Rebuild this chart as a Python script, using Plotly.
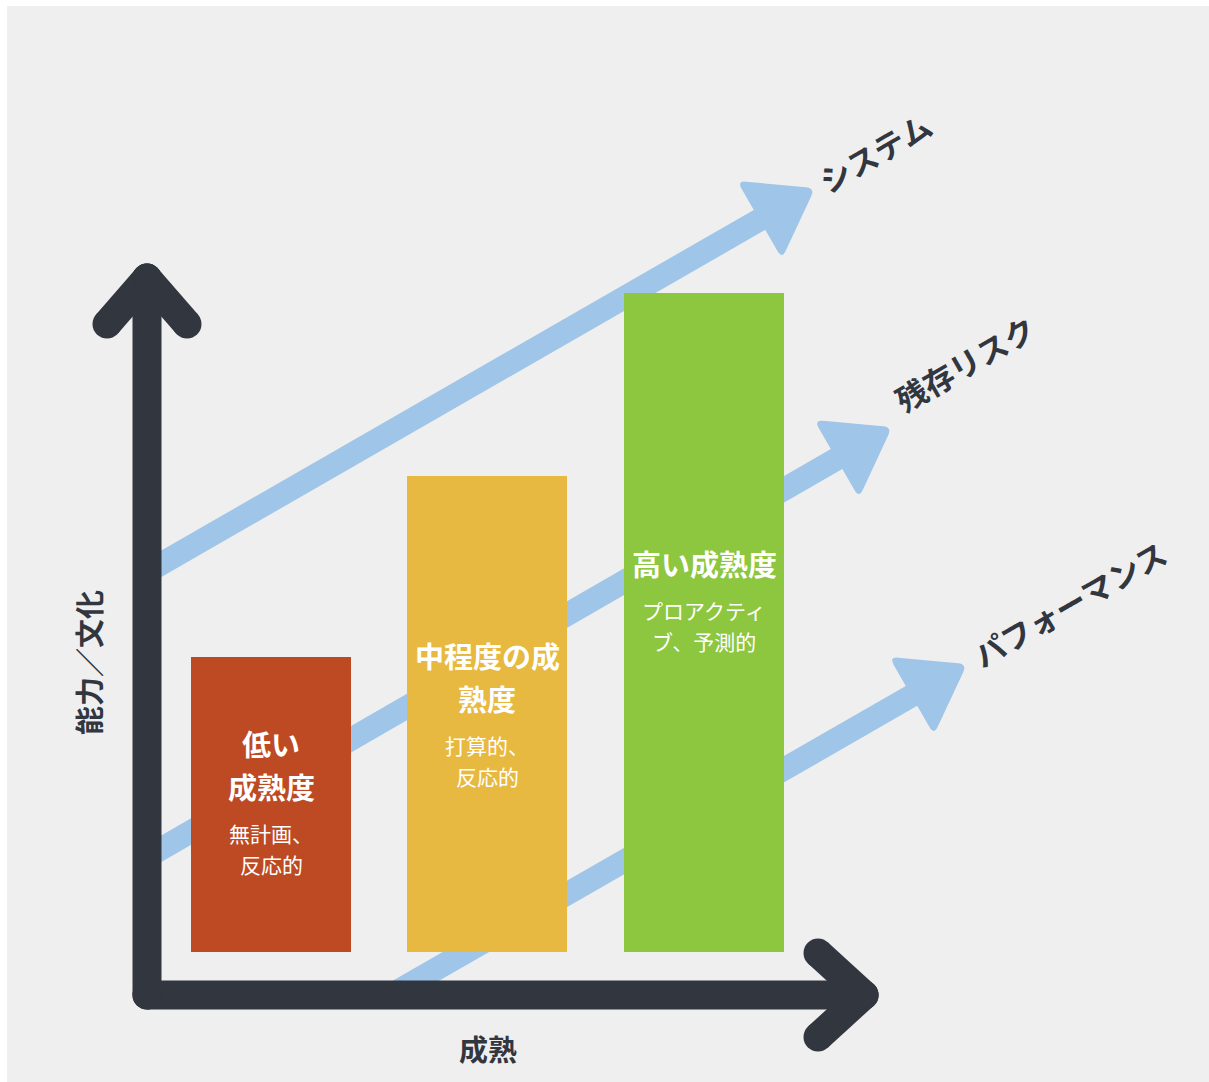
import math
import plotly.graph_objects as go

W, H = 1209, 1082
BASE = 952  # pixel row of the bar baseline

# ---- data -------------------------------------------------------------
stage_names = ["低い成熟度", "中程度の成熟度", "高い成熟度"]
stage_pos = [271, 487, 704]
stage_level = [295, 476, 659]
stage_colors = ["#BD4A22", "#E8B940", "#8DC63F"]
stage_title_lines = [["低い", "成熟度"], ["中程度の成", "熟度"], ["高い成熟度"]]
stage_sub_lines = [["無計画、", "反応的"], ["打算的、", "反応的"], ["プロアクティ", "ブ、予測的"]]
trend_labels = ["システム", "残存リスク", "パフォーマンス"]
x_axis_label = "成熟"
y_axis_label = "能力／文化"

# ---- layout constants (pixel space) -------------------------------------
BG = "#EFEFEF"
DARK = "#32363F"
BLUE = "#9FC5E8"
FONT = "Noto Sans CJK JP"
BAR_W = 160
label_first_row = [743, 655, 563]
TITLE_GAP, TITLE_SUB_GAP, SUB_GAP = 43, 47, 31
TITLE_SIZE, SUB_SIZE = 29, 21

trend_start = [(147, 572), (147, 857), (391, 995)]
trend_tip = [(815, 188), (892, 427), (967, 664)]
trend_label_pos = [(874, 152), (964, 363), (1069, 603)]
SHAFT_W = 23
HEAD_L, HEAD_HW, HEAD_R = 64, 45, 9

AXIS_W = 29
axis_segments = [
    ((147, 995), (864, 995)),
    ((147, 995), (147, 278)),
    ((147, 278), (107, 324)),
    ((147, 278), (187, 324)),
    ((864, 995), (818, 953)),
    ((864, 995), (818, 1037)),
]


def d(px, py):
    """pixel -> data coordinates"""
    return px, BASE - py


fig = go.Figure()

# bars
fig.add_trace(go.Bar(
    x=stage_pos, y=stage_level, base=0, width=BAR_W,
    marker=dict(color=stage_colors, line=dict(width=0)),
    name="成熟度", hoverinfo="skip", showlegend=False,
    text=stage_names, textposition="none",
))

# dark axes (separate segments + round caps via markers)
axx, axy = [], []
for p, q in axis_segments:
    for pt in (p, q):
        x, y = d(*pt)
        axx.append(x)
        axy.append(y)
    axx.append(None)
    axy.append(None)
fig.add_trace(go.Scatter(
    x=axx, y=axy, mode="lines+markers",
    line=dict(color=DARK, width=AXIS_W),
    marker=dict(color=DARK, size=AXIS_W, line=dict(width=0)),
    hoverinfo="skip", showlegend=False, connectgaps=False,
))

shapes = []
annotations = []


def rounded_poly(pts, r):
    n = len(pts)
    segs = []
    for i in range(n):
        p0 = pts[i - 1]
        p1 = pts[i]
        p2 = pts[(i + 1) % n]
        v1 = (p0[0] - p1[0], p0[1] - p1[1])
        v2 = (p2[0] - p1[0], p2[1] - p1[1])
        l1 = math.hypot(*v1)
        l2 = math.hypot(*v2)
        a = (p1[0] + v1[0] / l1 * r, p1[1] + v1[1] / l1 * r)
        b = (p1[0] + v2[0] / l2 * r, p1[1] + v2[1] / l2 * r)
        segs.append((a, p1, b))
    path = ""
    for i, (a, c, b) in enumerate(segs):
        ad, cd, bd = d(*a), d(*c), d(*b)
        path += ("M" if i == 0 else "L") + f"{ad[0]:.2f},{ad[1]:.2f} "
        path += f"Q{cd[0]:.2f},{cd[1]:.2f} {bd[0]:.2f},{bd[1]:.2f} "
    return path + "Z"


for (sx, sy), (tx, ty) in zip(trend_start, trend_tip):
    L = math.hypot(tx - sx, ty - sy)
    ux, uy = (tx - sx) / L, (ty - sy) / L
    nx, ny = -uy, ux
    bx, by = tx - ux * HEAD_L, ty - uy * HEAD_L
    x0, y0 = d(sx, sy)
    x1, y1 = d(bx + ux * 4, by + uy * 4)
    shapes.append(dict(type="line", xref="x", yref="y", x0=x0, y0=y0, x1=x1, y1=y1,
                       line=dict(color=BLUE, width=SHAFT_W), layer="below"))
    tri = [(tx, ty), (bx + nx * HEAD_HW, by + ny * HEAD_HW), (bx - nx * HEAD_HW, by - ny * HEAD_HW)]
    shapes.append(dict(type="path", xref="x", yref="y", path=rounded_poly(tri, HEAD_R),
                       fillcolor=BLUE, line=dict(width=0), layer="below"))

for lbl, (px, py) in zip(trend_labels, trend_label_pos):
    x, y = d(px, py)
    annotations.append(dict(x=x, y=y, xref="x", yref="y", text=lbl, showarrow=False,
                            textangle=-30, xanchor="center", yanchor="middle",
                            font=dict(family=FONT, size=31, color=DARK, weight="bold")))

# bar labels
for cx, titles, subs, row in zip(stage_pos, stage_title_lines, stage_sub_lines, label_first_row):
    y = row
    for i, t in enumerate(titles):
        if i > 0:
            y += TITLE_GAP
        annotations.append(dict(x=cx, y=d(cx, y)[1], xref="x", yref="y", text=t, showarrow=False,
                                xanchor="center", yanchor="middle",
                                font=dict(family=FONT, size=TITLE_SIZE, color="white", weight="bold")))
    y += TITLE_SUB_GAP
    for i, s in enumerate(subs):
        if i > 0:
            y += SUB_GAP
        annotations.append(dict(x=cx, y=d(cx, y)[1], xref="x", yref="y", text=s, showarrow=False,
                                xanchor="center", yanchor="middle",
                                font=dict(family=FONT, size=SUB_SIZE, color="white")))

# axis titles
annotations.append(dict(x=488, y=d(488, 1048)[1], xref="x", yref="y", text=x_axis_label,
                        showarrow=False, xanchor="center", yanchor="middle",
                        font=dict(family=FONT, size=29, color=DARK, weight="bold")))
annotations.append(dict(x=88, y=d(88, 663)[1], xref="x", yref="y", text=y_axis_label,
                        showarrow=False, xanchor="center", yanchor="middle", textangle=-90,
                        font=dict(family=FONT, size=29, color=DARK, weight="bold")))

fig.update_layout(
    width=W, height=H,
    margin=dict(l=7, r=0, t=6, b=0, pad=0),
    paper_bgcolor="white", plot_bgcolor=BG,
    xaxis=dict(range=[7, W], visible=False, fixedrange=True),
    yaxis=dict(range=[BASE - H, BASE - 6], visible=False, fixedrange=True),
    shapes=shapes, annotations=annotations,
    showlegend=False, bargap=0,
)

fig.write_html("out.html")
